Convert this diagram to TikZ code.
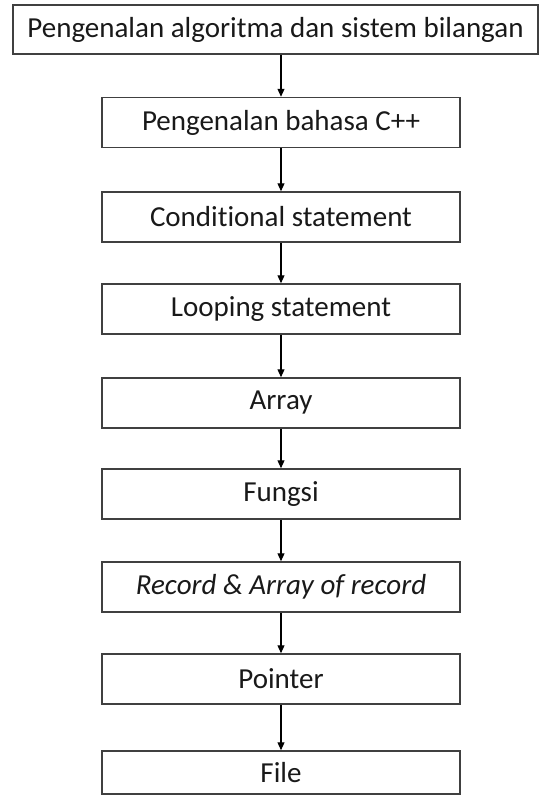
\documentclass[tikz,border=0pt]{standalone}
\usepackage{fontspec}
\setmainfont{Carlito}[Ligatures={NoCommon}]
\usetikzlibrary{arrows.meta}

\begin{document}
\begin{tikzpicture}[x=1pt, y=-1pt,
        topik/.style={draw=black!75, line width=1.5pt, minimum width=358pt,
            minimum height=50pt, inner sep=0pt, text=black!90,
            font=\fontsize{29}{35}\selectfont},
        panah/.style={-{Triangle[length=8pt,width=7pt]}, line width=1.1pt}]
        \useasboundingbox (0,0) rectangle (539,795);

        \node[topik, minimum width=525pt, minimum height=49pt] (t1) at (275.5, 29.5) {Pengenalan algoritma dan sistem bilangan};
        \node[topik] (t2) at (281, 122.5) {Pengenalan bahasa C++};
        \node[topik] (t3) at (281, 217) {Conditional statement};
        \node[topik] (t4) at (281, 309) {Looping statement};
        \node[topik] (t5) at (281, 403) {Array};
        \node[topik] (t6) at (281, 494) {Fungsi};
        \node[topik] (t7) at (281, 587) {\itshape Record \& Array of record};
        \node[topik] (t8) at (281, 679) {Pointer};
        \node[topik, minimum height=43pt] (t9) at (281, 772.5) {File};

        \foreach \a [evaluate=\a as \b using int(\a+1)] in {1, 2, ..., 8} {
            \draw[panah] (t\a.south -| t\b.north) -- (t\b.north);
        }
    \end{tikzpicture}
\end{document}
